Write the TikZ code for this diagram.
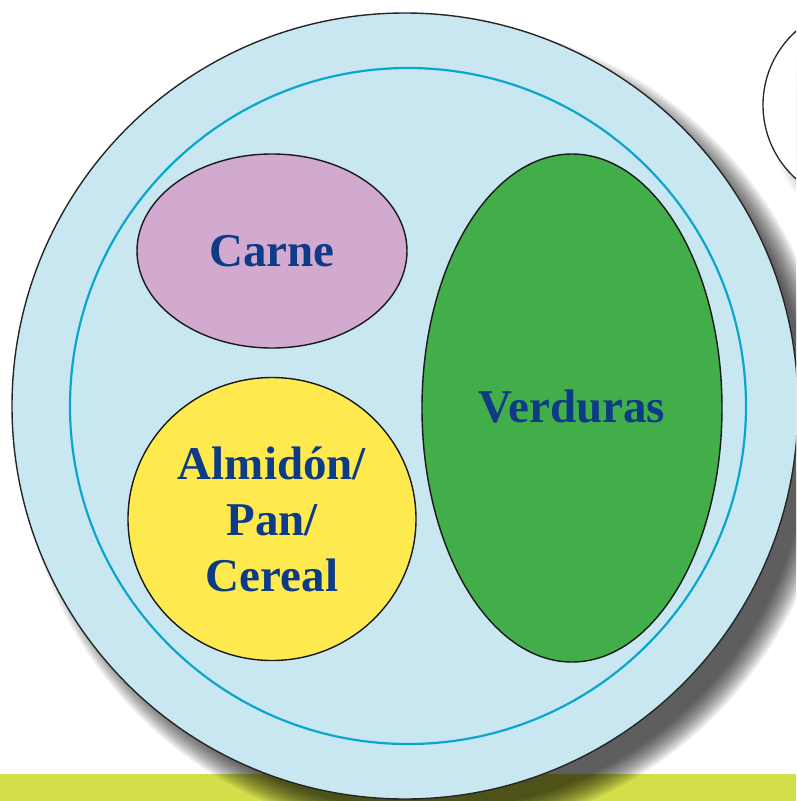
\documentclass[tikz,border=0pt]{standalone}
\usepackage{fontspec}
\setmainfont{Liberation Serif}
\usepackage{tikz}
\usetikzlibrary{shapes.geometric}
\definecolor{plateBlue}{HTML}{C9E7F1}
\definecolor{rimCyan}{HTML}{0AA6CD}
\definecolor{meatPink}{HTML}{D2A9CF}
\definecolor{starchYellow}{HTML}{FEE94F}
\definecolor{vegGreen}{HTML}{41AE4A}
\definecolor{labelBlue}{HTML}{0E3B85}
\definecolor{barLime}{HTML}{D3DE4B}
\colorlet{rimDark}{black!85}
\tikzset{
  portion/.style={ellipse, draw=black!90, line width=1.4pt, inner sep=0pt, align=center,
    text=labelBlue, font=\fontsize{47}{56}\selectfont\bfseries},
}

\begin{document}
\begin{tikzpicture}[x=1pt, y=-1pt]
  \clip (0, 0) rectangle (796, 801);
  \fill[white] (0, 0) rectangle (796, 801);
  \fill[barLime] (0, 774) rectangle (796, 801);
  % second plate, top right
  \foreach \i in {0,...,10} {
    \fill[black, opacity=0.035] (880, 124) circle ({109 - 2*\i});
  }
  \filldraw[fill=white, draw=rimDark, line width=1.3pt] (862, 105) circle (99);
  % main plate
  \foreach \i in {0,...,12} {
    \fill[black, opacity=0.07] (427, 428) circle ({407 - 2*\i});
  }
  \filldraw[fill=plateBlue, draw=rimDark, line width=1.4pt] (405, 406) circle (393);
  \draw[rimCyan, line width=2.2pt] (408, 406) circle (338);
  \node[portion, fill=meatPink, minimum width=270pt, minimum height=194pt] (carne) at (272, 251) {Carne};
  \node[portion, fill=starchYellow, minimum width=288pt, minimum height=283pt] (almidon) at (272, 519) {Almidón/\\Pan/\\Cereal};
  \node[portion, fill=vegGreen, minimum width=300pt, minimum height=508pt, text depth=4pt] (verduras) at (572, 408) {Verduras};
\end{tikzpicture}
\end{document}
